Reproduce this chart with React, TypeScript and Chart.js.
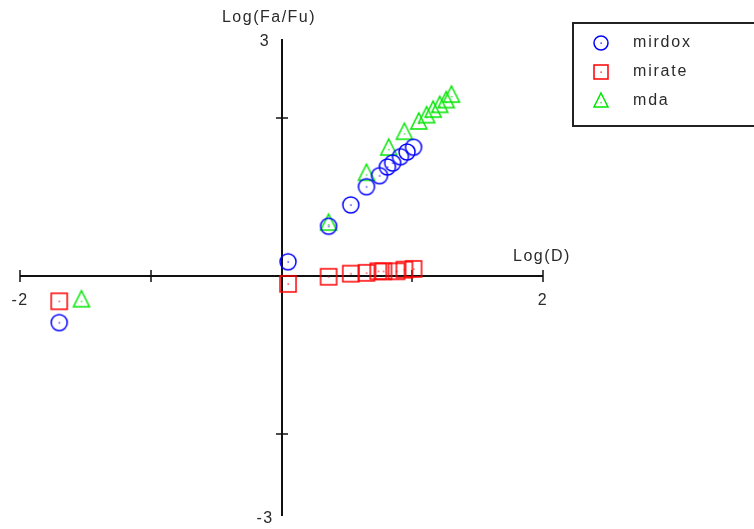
import React, { useEffect, useRef } from "react";
import { Chart, registerables } from "chart.js";

Chart.register(...registerables);

// ---- data ----
const seriesNames = ["mirdox", "mirate", "mda"];
const seriesColors = ["#0000ff", "#ff0000", "#00e600"];

const mirdoxX = [-1.7, 0.05, 0.36, 0.53, 0.65, 0.75, 0.81, 0.85, 0.91, 0.96, 1.01];
const mirdoxY = [-0.59, 0.18, 0.63, 0.9, 1.13, 1.27, 1.38, 1.43, 1.51, 1.57, 1.63];

const mirateX = [-1.7, 0.05, 0.36, 0.53, 0.65, 0.74, 0.78, 0.88, 0.94, 1.01];
const mirateY = [-0.32, -0.1, -0.01, 0.03, 0.04, 0.06, 0.06, 0.06, 0.08, 0.09];

const mdaX = [-1.53, 0.36, 0.65, 0.82, 0.94, 1.05, 1.11, 1.16, 1.21, 1.26, 1.3];
const mdaY = [-0.3, 0.67, 1.3, 1.62, 1.82, 1.95, 2.03, 2.1, 2.16, 2.22, 2.29];

const xTicks = [-2, -1, 0, 1, 2];
const yTicks = [-2, 0, 2];
const xTickLabels = ["-2", "2"];
const xTickLabelValues = [-2, 2];
const yTickLabels = ["3", "-3"];
const yTickLabelValues = [3, -3];
const xTitle = "Log(D)";
const yTitle = "Log(Fa/Fu)";

const FONT = '16px "Liberation Sans", Arial, sans-serif';
const TEXT = "#2a2a2a";

function makeIcon(kind: string, color: string, s: number): HTMLCanvasElement {
  const c = document.createElement("canvas");
  const size = 24;
  c.width = size;
  c.height = size;
  const m = size / 2;
  const ctx = c.getContext("2d")!;
  ctx.strokeStyle = color;
  ctx.fillStyle = color;
  ctx.lineWidth = 1.5;
  ctx.beginPath();
  if (kind === "circle") {
    ctx.arc(m, m, s / 2, 0, Math.PI * 2);
  } else if (kind === "rect") {
    ctx.rect(m - s / 2, m - s / 2, s, s);
  } else {
    ctx.moveTo(m, m - s / 2 - 1);
    ctx.lineTo(m + s / 2, m + s / 2 - 1);
    ctx.lineTo(m - s / 2, m + s / 2 - 1);
    ctx.closePath();
  }
  ctx.stroke();
  ctx.fillRect(m - 0.5, kind === "tri" ? m + 1 : m - 0.5, 1.3, 1.3);
  return c;
}

function zip(xs: number[], ys: number[]) {
  return xs.map((x, i) => ({ x, y: ys[i] }));
}

export default function App() {
  const ref = useRef<HTMLCanvasElement | null>(null);

  useEffect(() => {
    if (!ref.current) return;
    const kinds = ["circle", "rect", "tri"];
    const icons = kinds.map((k, i) => makeIcon(k, seriesColors[i], 16));
    const legendIcons = kinds.map((k, i) => makeIcon(k, seriesColors[i], 14));
    const xs = [mirdoxX, mirateX, mdaX];
    const ys = [mirdoxY, mirateY, mdaY];

    const axesPlugin = {
      id: "crossAxes",
      beforeDatasetsDraw(chart: any) {
        const ctx = chart.ctx as CanvasRenderingContext2D;
        const sx = chart.scales.x;
        const sy = chart.scales.y;
        const x0 = Math.round(sx.getPixelForValue(0));
        const y0 = Math.round(sy.getPixelForValue(0));
        ctx.save();
        ctx.strokeStyle = "#111";
        ctx.lineWidth = 2;
        ctx.beginPath();
        ctx.moveTo(sx.getPixelForValue(-2), y0);
        ctx.lineTo(sx.getPixelForValue(2), y0);
        ctx.stroke();
        ctx.beginPath();
        ctx.moveTo(x0, sy.getPixelForValue(3));
        ctx.lineTo(x0, sy.getPixelForValue(-3) + 3);
        ctx.stroke();
        ctx.lineWidth = 1.5;
        xTicks.forEach((v) => {
          if (v === 0) return;
          const px = Math.round(sx.getPixelForValue(v));
          ctx.beginPath();
          ctx.moveTo(px, y0 - 6);
          ctx.lineTo(px, y0 + 6);
          ctx.stroke();
        });
        yTicks.forEach((v) => {
          if (v === 0) return;
          const py = Math.round(sy.getPixelForValue(v));
          ctx.beginPath();
          ctx.moveTo(x0 - 6, py);
          ctx.lineTo(x0 + 6, py);
          ctx.stroke();
        });
        ctx.fillStyle = TEXT;
        ctx.font = FONT;
        (ctx as any).letterSpacing = "1.5px";
        ctx.textBaseline = "middle";
        ctx.textAlign = "center";
        xTickLabels.forEach((t, i) => {
          ctx.fillText(t, sx.getPixelForValue(xTickLabelValues[i]), y0 + 25);
        });
        yTickLabels.forEach((t, i) => {
          const py = sy.getPixelForValue(yTickLabelValues[i]);
          ctx.fillText(t, x0 - 17, yTickLabelValues[i] > 0 ? py + 3 : py + 6);
        });
        ctx.textAlign = "left";
        ctx.fillText(xTitle, sx.getPixelForValue(2) - 30, y0 - 19);
        ctx.textAlign = "center";
        ctx.fillText(yTitle, x0 - 13, sy.getPixelForValue(3) - 21);
        ctx.restore();
      },
      afterDraw(chart: any) {
        const ctx = chart.ctx as CanvasRenderingContext2D;
        ctx.save();
        ctx.strokeStyle = "#222";
        ctx.lineWidth = 2;
        ctx.strokeRect(573, 23, 200, 103);
        ctx.font = FONT;
        (ctx as any).letterSpacing = "1.8px";
        ctx.fillStyle = TEXT;
        ctx.textBaseline = "middle";
        ctx.textAlign = "left";
        seriesNames.forEach((n, i) => {
          const y = 43 + i * 29;
          ctx.drawImage(legendIcons[i], 601 - 12, y - 12);
          ctx.fillText(n, 633, y);
        });
        ctx.restore();
      },
    };

    const chart = new Chart(ref.current, {
      type: "scatter",
      data: {
        datasets: seriesNames.map((n, i) => ({
          label: n,
          data: zip(xs[i], ys[i]),
          pointStyle: icons[i] as any,
          borderColor: seriesColors[i],
          backgroundColor: seriesColors[i],
          clip: false as any,
        })),
      },
      options: {
        responsive: false,
        animation: false,
        devicePixelRatio: 1,
        events: [],
        layout: { padding: { left: 20, right: 211, top: 39, bottom: 16 } },
        plugins: { legend: { display: false }, tooltip: { enabled: false } },
        scales: {
          x: { type: "linear", min: -2, max: 2, display: false },
          y: { type: "linear", min: -3, max: 3, display: false },
        },
      },
      plugins: [axesPlugin],
    });
    return () => chart.destroy();
  }, []);

  return (
    <div style={{ position: "absolute", left: 0, top: 0, width: 754, height: 529, background: "#fff" }}>
      <canvas ref={ref} width={754} height={529} style={{ width: 754, height: 529 }} />
    </div>
  );
}
